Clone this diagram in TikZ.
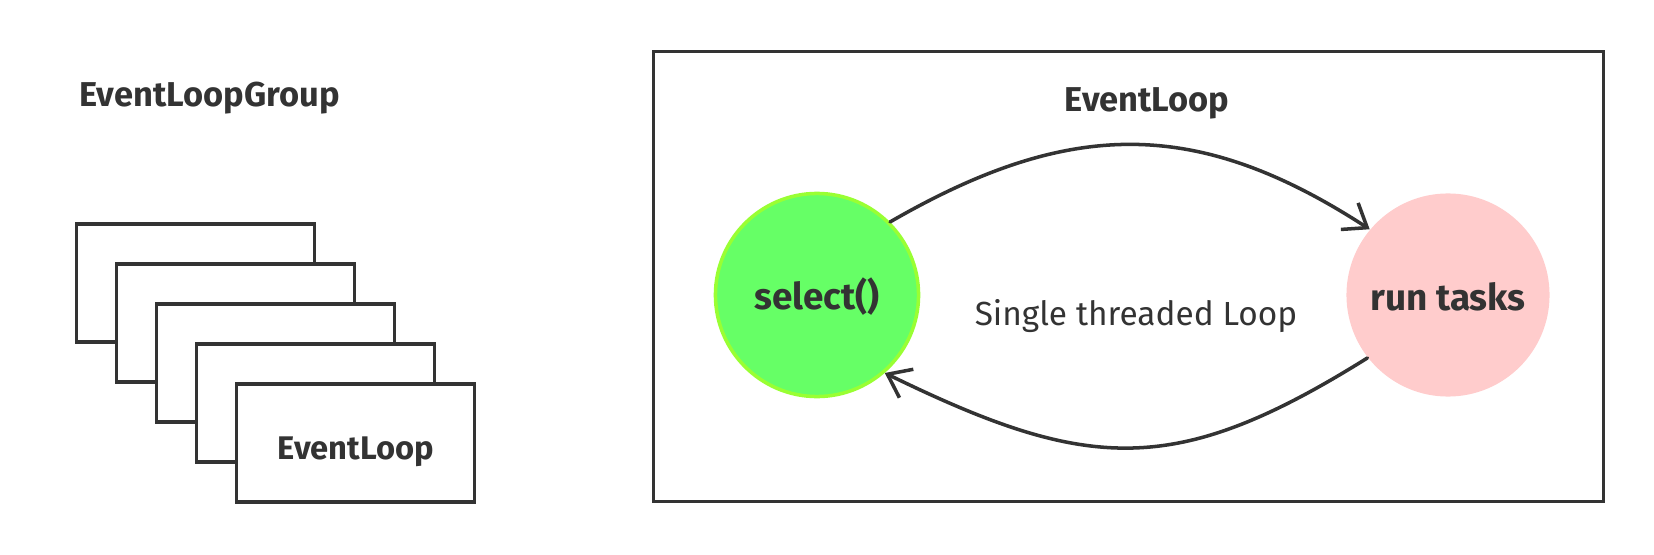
\documentclass[tikz,border=0pt]{standalone}
\usepackage{fontspec}
\setmainfont{Fira Sans}
\usepackage{xcolor}
\definecolor{inkgray}{HTML}{333333}
\definecolor{selgreen}{HTML}{66FF66}
\definecolor{selrim}{HTML}{99FF33}
\definecolor{runpink}{HTML}{FFCCCC}
\usetikzlibrary{arrows.meta}

\begin{document}
\begin{tikzpicture}[x=0.01cm, y=0.01cm,
  loopbox/.style={draw=inkgray, line width=0.95pt, fill=white, minimum width=2.38cm, minimum height=1.18cm, inner sep=0pt},
  heading/.style={font=\fontsize{#1}{12}\selectfont\bfseries, text=inkgray, anchor=base, inner sep=0pt},
  heading/.default=10.5,
  plain/.style={font=\fontsize{9.5}{11}\selectfont, text=inkgray, anchor=base, inner sep=0pt},
  state/.style={circle, minimum size=2.03cm, inner sep=0pt, text=inkgray, font=\fontsize{10.5}{12}\selectfont\bfseries, text depth=0pt},
  flow/.style={draw=inkgray, line width=1pt, -{Straight Barb[length=6pt,width=9pt]}, line cap=round, line join=round}]
  \useasboundingbox (0,0) rectangle (1654,554);

  % Group of loops
  \node[heading=9.8] (grouptitle) at (209.5,447) {EventLoopGroup};
  \foreach \i in {0,...,4}
    \node[loopbox] (loop\i) at ({195.5+40*\i},{271-40*\i}) {};
  \node[heading=9.3] (looplabel) at (356,94.7) {EventLoop};

  % One loop
  \node[draw=inkgray, line width=0.95pt, minimum width=9.5cm, minimum height=4.5cm, inner sep=0pt] (frame) at (1128.5,277.5) {};
  \node[heading=9.8] (frametitle) at (1147,442.3) {EventLoop};
  \node[state, fill=selgreen, draw=selrim, line width=1pt, text height=8.5pt] (sel) at (817,259) {select()};
  \node[state, fill=runpink, text height=8.9pt] (run) at (1448,259) {run tasks};
  \node[plain] (looptext) at (1136,229) {Single threaded Loop};

  % Arrows
  \draw[flow] (sel.45) to[out=30, in=147, looseness=1.1] (run.140);
  \draw[flow] (run.218) to[out=212, in=-26, looseness=1.2] (sel.311);
\end{tikzpicture}
\end{document}
